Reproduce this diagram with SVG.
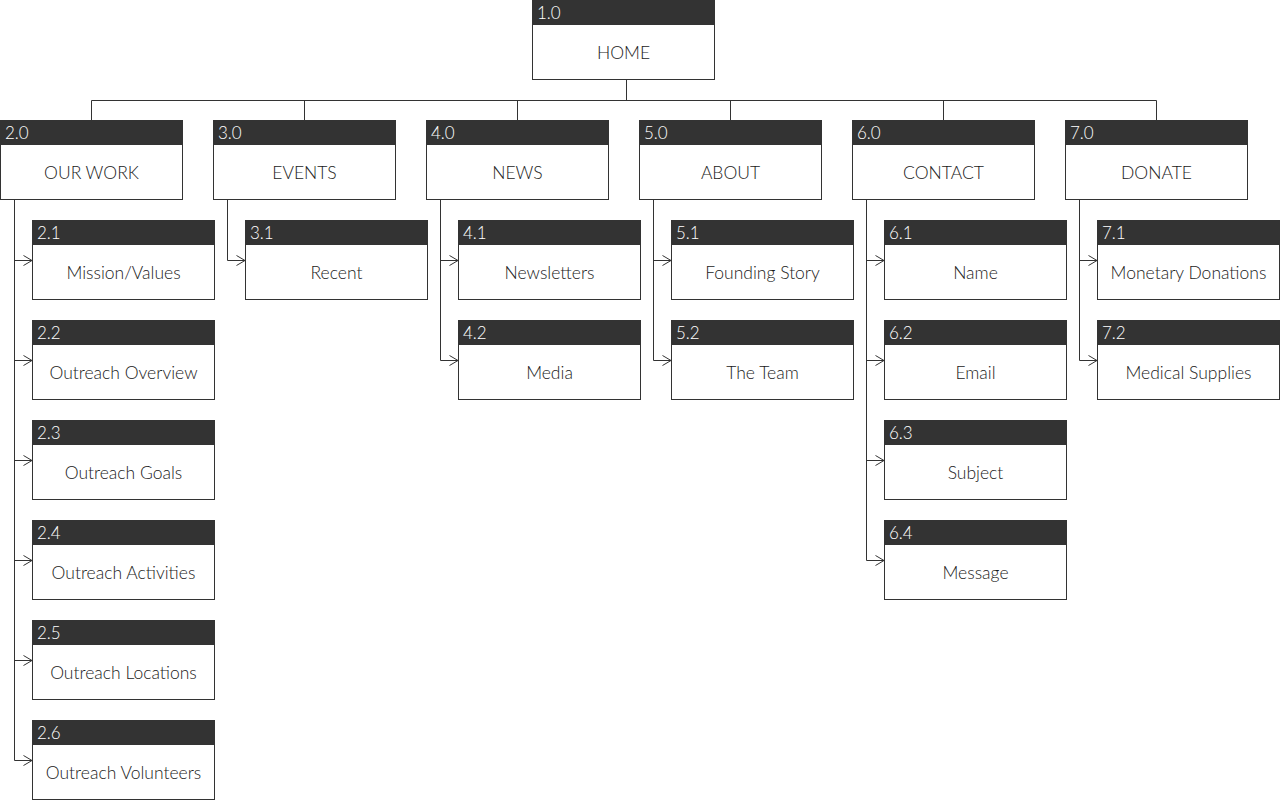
<svg xmlns="http://www.w3.org/2000/svg" width="1280" height="800" viewBox="0 0 1280 800">
<defs>
<marker id="arr" viewBox="0 0 10 12" markerWidth="10" markerHeight="12" refX="9.5" refY="6" orient="auto" markerUnits="userSpaceOnUse">
<path d="M1,1 L9.5,6 L1,11" fill="none" stroke="#333" stroke-width="1"/>
</marker>
<style>
.box{fill:#fff;stroke:#333;stroke-width:1}
.hd{fill:#333}
.num{font-family:Lato,"Liberation Sans",sans-serif;font-size:17px;font-weight:300;fill:#fff}
.lbl{font-family:Lato,"Liberation Sans",sans-serif;font-size:17.5px;font-weight:300;fill:#1a1a1a;text-anchor:middle}
.ln{fill:none;stroke:#333;stroke-width:1}
.ar{fill:none;stroke:#333;stroke-width:1;marker-end:url(#arr)}
</style>
</defs>
<rect width="1280" height="800" fill="#fff"/>
<g id="connectors">
<path class="ln" d="M626.5,79 V100.5 M91.5,100.5 H1156.5 M91.5,100.5 V120 M304.5,100.5 V120 M517.5,100.5 V120 M730.5,100.5 V120 M943.5,100.5 V120 M1156.5,100.5 V120"/>
<path class="ln" d="M14.5,199 V760.5 M227.5,199 V260.5 M440.5,199 V360.5 M653.5,199 V360.5 M866.5,199 V560.5 M1079.5,199 V360.5"/>
<path class="ar" d="M14.5,260.5 H32"/><path class="ar" d="M14.5,360.5 H32"/><path class="ar" d="M14.5,460.5 H32"/><path class="ar" d="M14.5,560.5 H32"/><path class="ar" d="M14.5,660.5 H32"/><path class="ar" d="M14.5,760.5 H32"/>
<path class="ar" d="M227.5,260.5 H245"/>
<path class="ar" d="M440.5,260.5 H458"/><path class="ar" d="M440.5,360.5 H458"/>
<path class="ar" d="M653.5,260.5 H671"/><path class="ar" d="M653.5,360.5 H671"/>
<path class="ar" d="M866.5,260.5 H884"/><path class="ar" d="M866.5,360.5 H884"/><path class="ar" d="M866.5,460.5 H884"/><path class="ar" d="M866.5,560.5 H884"/>
<path class="ar" d="M1079.5,260.5 H1097"/><path class="ar" d="M1079.5,360.5 H1097"/>
</g>
<g id="n1-0"><rect class="box" x="532.5" y="0.5" width="182" height="79"/><rect class="hd" x="532" y="0" width="183" height="25"/><text class="num" x="537" y="19">1.0</text><text class="lbl" x="623.5" y="59">HOME</text></g>

<g id="n2-0"><rect class="box" x="0.5" y="120.5" width="182" height="79"/><rect class="hd" x="0" y="120" width="183" height="25"/><text class="num" x="5" y="139">2.0</text><text class="lbl" x="91.5" y="179">OUR WORK</text></g>
<g id="n3-0"><rect class="box" x="213.5" y="120.5" width="182" height="79"/><rect class="hd" x="213" y="120" width="183" height="25"/><text class="num" x="218" y="139">3.0</text><text class="lbl" x="304.5" y="179">EVENTS</text></g>
<g id="n4-0"><rect class="box" x="426.5" y="120.5" width="182" height="79"/><rect class="hd" x="426" y="120" width="183" height="25"/><text class="num" x="431" y="139">4.0</text><text class="lbl" x="517.5" y="179">NEWS</text></g>
<g id="n5-0"><rect class="box" x="639.5" y="120.5" width="182" height="79"/><rect class="hd" x="639" y="120" width="183" height="25"/><text class="num" x="644" y="139">5.0</text><text class="lbl" x="730.5" y="179">ABOUT</text></g>
<g id="n6-0"><rect class="box" x="852.5" y="120.5" width="182" height="79"/><rect class="hd" x="852" y="120" width="183" height="25"/><text class="num" x="857" y="139">6.0</text><text class="lbl" x="943.5" y="179">CONTACT</text></g>
<g id="n7-0"><rect class="box" x="1065.5" y="120.5" width="182" height="79"/><rect class="hd" x="1065" y="120" width="183" height="25"/><text class="num" x="1070" y="139">7.0</text><text class="lbl" x="1156.5" y="179">DONATE</text></g>

<g id="n2-1"><rect class="box" x="32.5" y="220.5" width="182" height="79"/><rect class="hd" x="32" y="220" width="183" height="25"/><text class="num" x="37" y="239">2.1</text><text class="lbl" x="123.5" y="279">Mission/Values</text></g>
<g id="n2-2"><rect class="box" x="32.5" y="320.5" width="182" height="79"/><rect class="hd" x="32" y="320" width="183" height="25"/><text class="num" x="37" y="339">2.2</text><text class="lbl" x="123.5" y="379">Outreach Overview</text></g>
<g id="n2-3"><rect class="box" x="32.5" y="420.5" width="182" height="79"/><rect class="hd" x="32" y="420" width="183" height="25"/><text class="num" x="37" y="439">2.3</text><text class="lbl" x="123.5" y="479">Outreach Goals</text></g>
<g id="n2-4"><rect class="box" x="32.5" y="520.5" width="182" height="79"/><rect class="hd" x="32" y="520" width="183" height="25"/><text class="num" x="37" y="539">2.4</text><text class="lbl" x="123.5" y="579">Outreach Activities</text></g>
<g id="n2-5"><rect class="box" x="32.5" y="620.5" width="182" height="79"/><rect class="hd" x="32" y="620" width="183" height="25"/><text class="num" x="37" y="639">2.5</text><text class="lbl" x="123.5" y="679">Outreach Locations</text></g>
<g id="n2-6"><rect class="box" x="32.5" y="720.5" width="182" height="79"/><rect class="hd" x="32" y="720" width="183" height="25"/><text class="num" x="37" y="739">2.6</text><text class="lbl" x="123.5" y="779">Outreach Volunteers</text></g>

<g id="n3-1"><rect class="box" x="245.5" y="220.5" width="182" height="79"/><rect class="hd" x="245" y="220" width="183" height="25"/><text class="num" x="250" y="239">3.1</text><text class="lbl" x="336.5" y="279">Recent</text></g>

<g id="n4-1"><rect class="box" x="458.5" y="220.5" width="182" height="79"/><rect class="hd" x="458" y="220" width="183" height="25"/><text class="num" x="463" y="239">4.1</text><text class="lbl" x="549.5" y="279">Newsletters</text></g>
<g id="n4-2"><rect class="box" x="458.5" y="320.5" width="182" height="79"/><rect class="hd" x="458" y="320" width="183" height="25"/><text class="num" x="463" y="339">4.2</text><text class="lbl" x="549.5" y="379">Media</text></g>

<g id="n5-1"><rect class="box" x="671.5" y="220.5" width="182" height="79"/><rect class="hd" x="671" y="220" width="183" height="25"/><text class="num" x="676" y="239">5.1</text><text class="lbl" x="762.5" y="279">Founding Story</text></g>
<g id="n5-2"><rect class="box" x="671.5" y="320.5" width="182" height="79"/><rect class="hd" x="671" y="320" width="183" height="25"/><text class="num" x="676" y="339">5.2</text><text class="lbl" x="762.5" y="379">The Team</text></g>

<g id="n6-1"><rect class="box" x="884.5" y="220.5" width="182" height="79"/><rect class="hd" x="884" y="220" width="183" height="25"/><text class="num" x="889" y="239">6.1</text><text class="lbl" x="975.5" y="279">Name</text></g>
<g id="n6-2"><rect class="box" x="884.5" y="320.5" width="182" height="79"/><rect class="hd" x="884" y="320" width="183" height="25"/><text class="num" x="889" y="339">6.2</text><text class="lbl" x="975.5" y="379">Email</text></g>
<g id="n6-3"><rect class="box" x="884.5" y="420.5" width="182" height="79"/><rect class="hd" x="884" y="420" width="183" height="25"/><text class="num" x="889" y="439">6.3</text><text class="lbl" x="975.5" y="479">Subject</text></g>
<g id="n6-4"><rect class="box" x="884.5" y="520.5" width="182" height="79"/><rect class="hd" x="884" y="520" width="183" height="25"/><text class="num" x="889" y="539">6.4</text><text class="lbl" x="975.5" y="579">Message</text></g>

<g id="n7-1"><rect class="box" x="1097.5" y="220.5" width="182" height="79"/><rect class="hd" x="1097" y="220" width="183" height="25"/><text class="num" x="1102" y="239">7.1</text><text class="lbl" x="1188.5" y="279">Monetary Donations</text></g>
<g id="n7-2"><rect class="box" x="1097.5" y="320.5" width="182" height="79"/><rect class="hd" x="1097" y="320" width="183" height="25"/><text class="num" x="1102" y="339">7.2</text><text class="lbl" x="1188.5" y="379">Medical Supplies</text></g>
</svg>
